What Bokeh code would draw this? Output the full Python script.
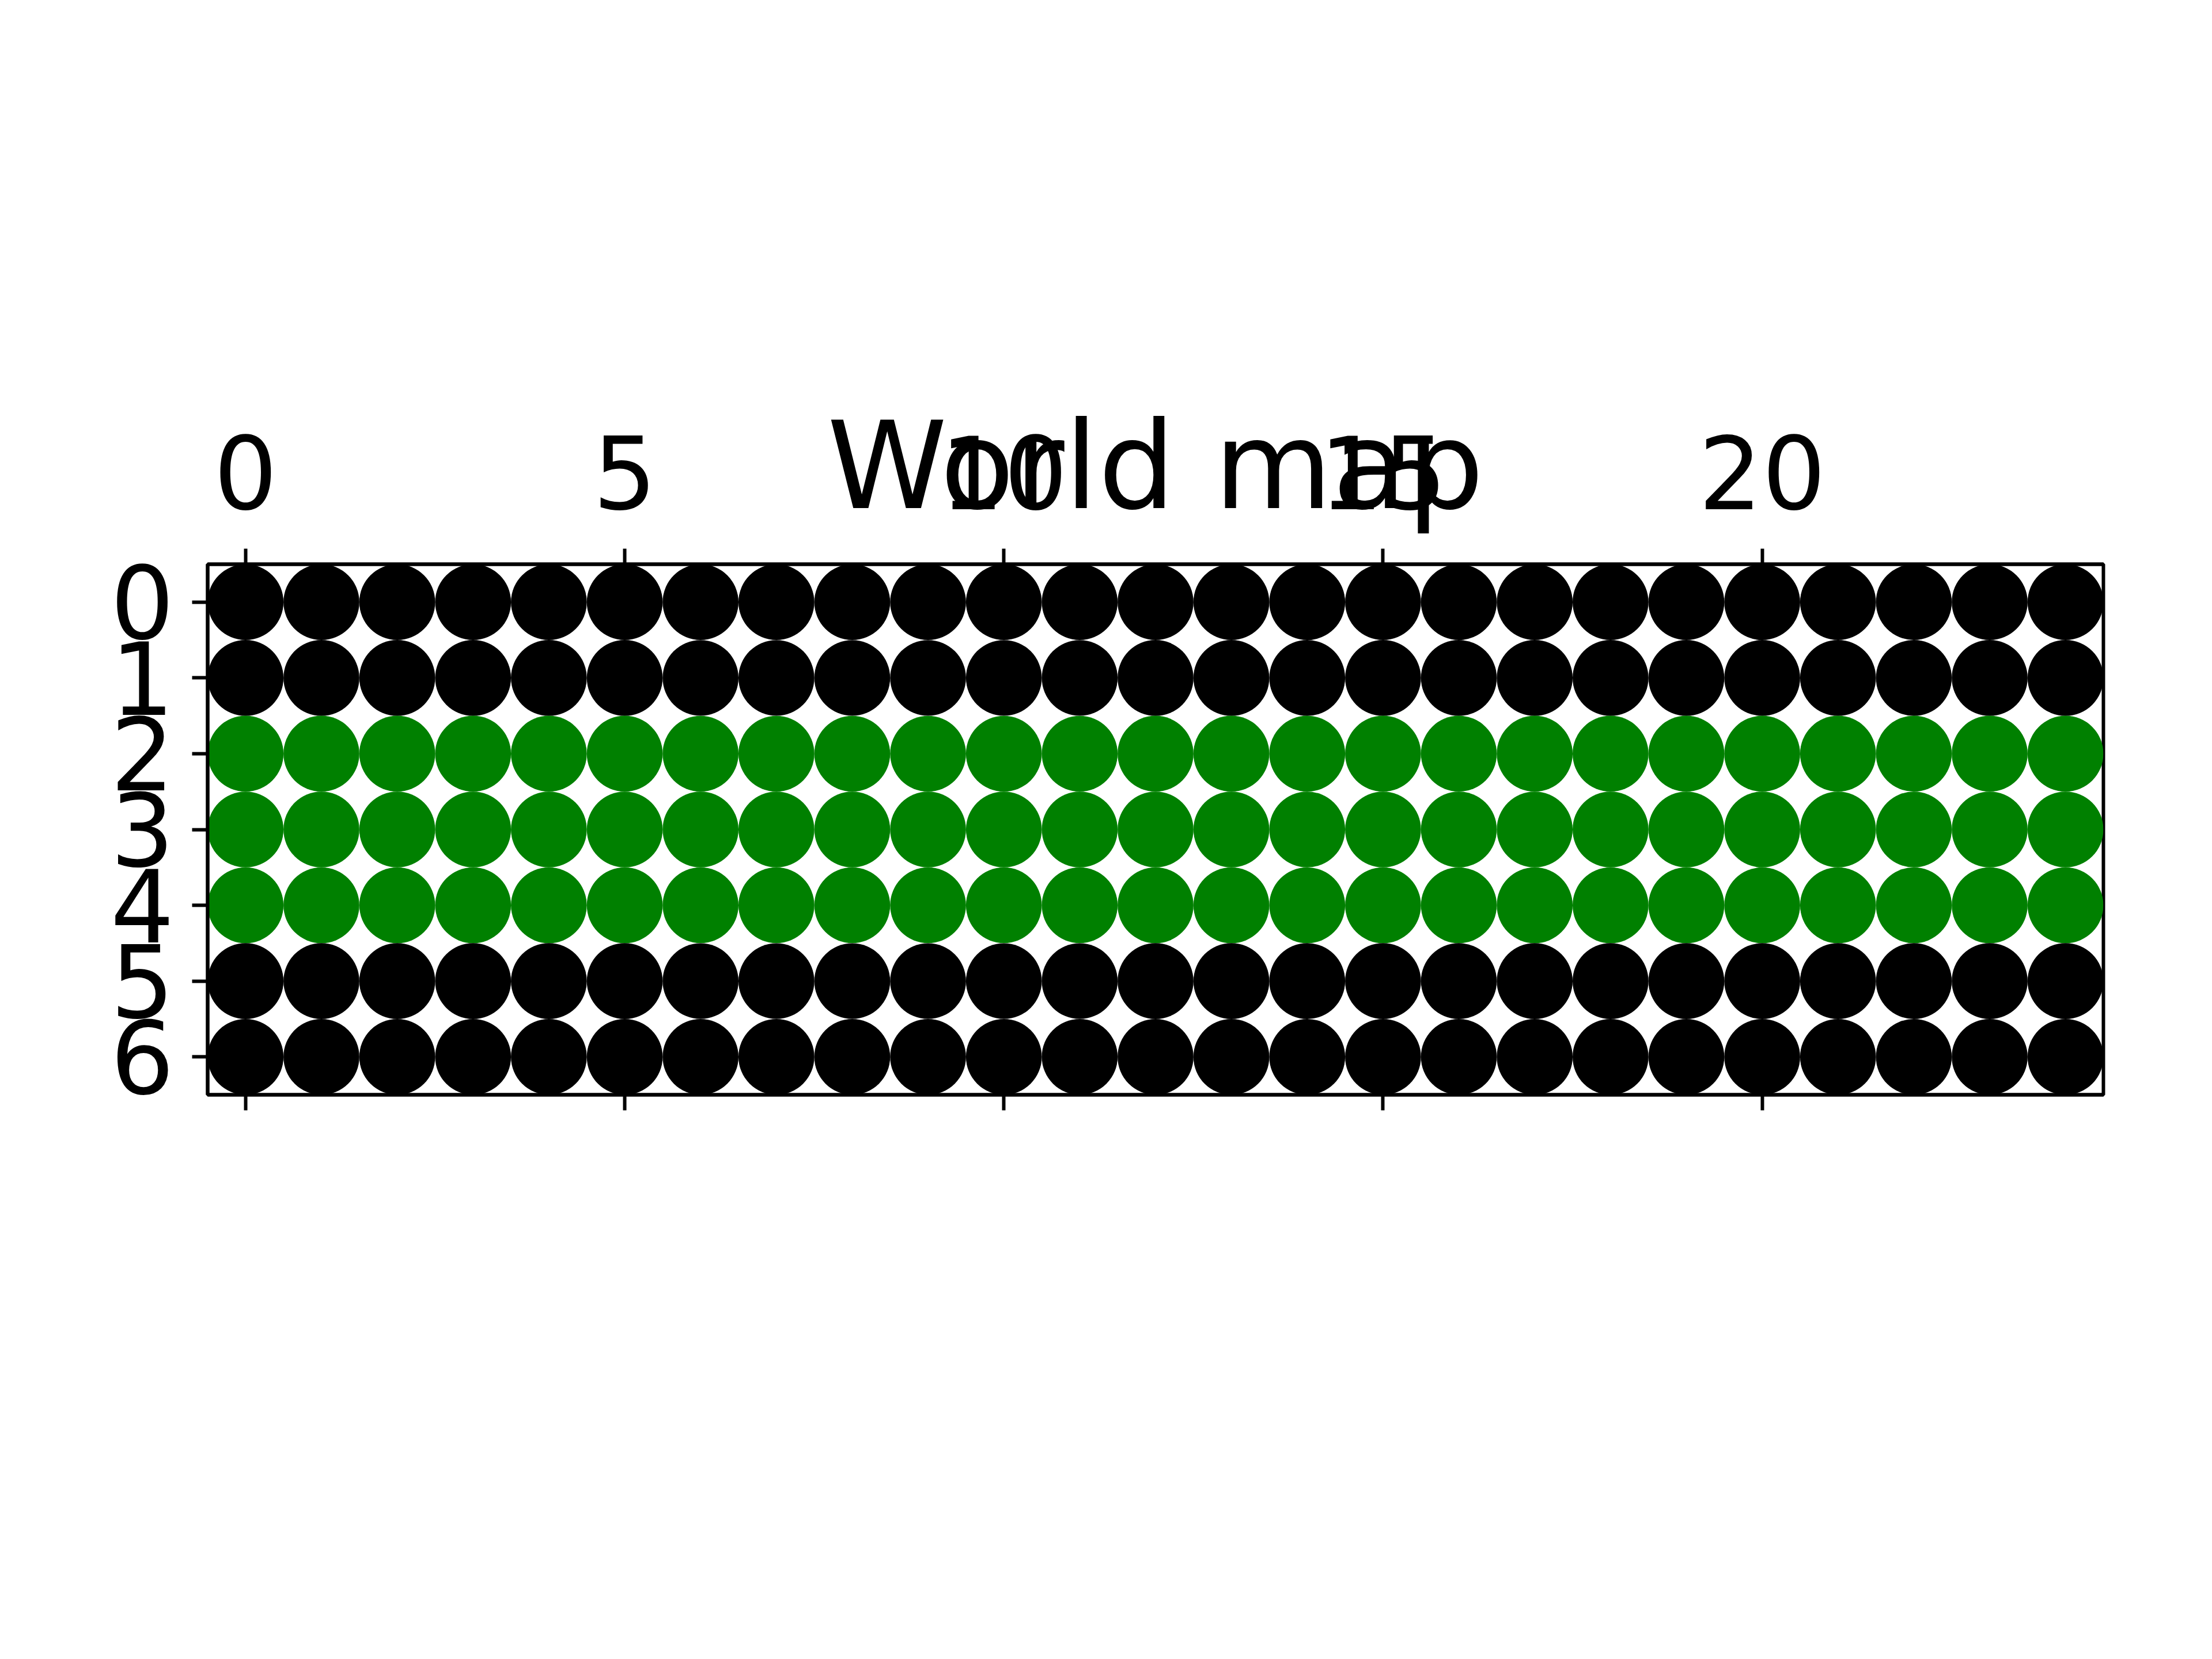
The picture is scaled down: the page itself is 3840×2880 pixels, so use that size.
from bokeh.plotting import figure
from bokeh.models import Range1d, FixedTicker, CustomJSTickFormatter, LinearAxis
from bokeh.embed import file_html
from bokeh.resources import INLINE

# Data
row_colors = ["black", "black", "green", "green", "green", "black", "black"]
n_cols = 25
x_ticks = [0, 5, 10, 15, 20]
y_ticks = [0, 1, 2, 3, 4, 5, 6]
title_text = "World map"

color_map = {"black": "#000000", "green": "#008000"}
xs, ys, cs = [], [], []
for r, c in enumerate(row_colors):
    for col in range(n_cols):
        xs.append(col)
        ys.append(r)
        cs.append(color_map[c])

W, H = 3824, 2864
p = figure(width=W, height=H, output_backend="svg", toolbar_location=None,
           x_range=Range1d(-0.5, n_cols - 0.5), y_range=Range1d(len(row_colors) - 0.5, -0.5),
           x_axis_location="above", min_border_left=360, min_border_top=979,
           min_border_right=W - 3651, min_border_bottom=H - 1900)
p.grid.visible = False
p.background_fill_color = "white"
p.border_fill_color = "white"
p.outline_line_color = "black"
p.outline_line_width = 6

p.circle(x=xs, y=ys, radius=0.5, fill_color=cs, line_color=None)

FONT = "DejaVu Sans"
FS = "174px"

def style(ax):
    ax.axis_line_color = "black"
    ax.axis_line_width = 6
    ax.major_tick_line_color = "black"
    ax.major_tick_line_width = 6
    ax.major_tick_out = 27
    ax.major_tick_in = 0
    ax.minor_tick_line_color = None
    ax.major_label_text_font = FONT
    ax.major_label_text_font_size = FS
    ax.major_label_text_color = "black"

xa = p.xaxis[0]
xa.ticker = FixedTicker(ticks=x_ticks)
style(xa)
xa.major_label_standoff = 69
xa.axis_label = title_text
xa.axis_label_text_font = FONT
xa.axis_label_text_font_size = "211px"
xa.axis_label_text_font_style = "normal"
xa.axis_label_text_color = "black"
xa.axis_label_standoff = -179

ya = p.yaxis[0]
ya.ticker = FixedTicker(ticks=y_ticks)
style(ya)
ya.major_label_standoff = 31

bottom = LinearAxis(ticker=FixedTicker(ticks=x_ticks),
                    formatter=CustomJSTickFormatter(code="return '';"))
style(bottom)
p.add_layout(bottom, "below")

open("out.html", "w").write(file_html(p, INLINE))
